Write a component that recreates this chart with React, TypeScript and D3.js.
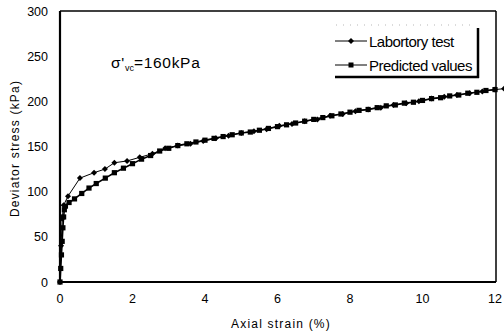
import React from 'react';
import * as d3 from 'd3';

// Axial strain (%) / deviator stress (kPa)
const labStrain = [0, 0.03, 0.06, 0.1, 0.22, 0.55, 0.94, 1.24, 1.5, 1.85, 2.2, 2.55, 2.9, 3.25, 3.6, 3.95, 4.3, 4.65, 5.0, 5.35, 5.7, 6.05, 6.4, 6.75, 7.1, 7.45, 7.8, 8.15, 8.5, 8.85, 9.2, 9.55, 9.9, 10.25, 10.6, 10.95, 11.3, 11.65, 12.0, 12.25];
const labStress = [0, 40, 70, 85, 95, 115, 121, 125, 132, 134, 138, 142, 148, 151, 153, 156, 159, 162, 165, 167, 169, 173, 175, 178, 180, 184, 186, 189, 191, 193, 196, 198, 200, 203, 205, 207, 209, 211, 213, 214];

const predStrain = [0, 0.02, 0.04, 0.06, 0.08, 0.1, 0.12, 0.15, 0.25, 0.4, 0.6, 0.8, 1.0, 1.25, 1.5, 1.75, 2.0, 2.25, 2.5, 2.75, 3.0, 3.25, 3.5, 3.75, 4.0, 4.25, 4.5, 4.75, 5.0, 5.25, 5.5, 5.75, 6.0, 6.25, 6.5, 6.75, 7.0, 7.25, 7.5, 7.75, 8.0, 8.25, 8.5, 8.75, 9.0, 9.25, 9.5, 9.75, 10.0, 10.25, 10.5, 10.75, 11.0, 11.25, 11.5, 11.75, 12.0];
const predStress = [0, 15, 30, 45, 60, 72, 80, 84, 88, 92, 98, 104, 109, 115, 121, 126, 131, 136, 140, 145, 148, 151, 153, 155, 157, 159, 161, 163, 165, 166, 168, 170, 172, 174, 176, 178, 180, 182, 184, 186, 188, 190, 191, 193, 195, 196, 198, 199, 201, 203, 204, 206, 207, 209, 210, 212, 213];

const xTicks = [0, 2, 4, 6, 8, 10, 12];
const yTicks = [0, 50, 100, 150, 200, 250, 300];

const W = 504;
const H = 333;
const left = 60, right = 496, top = 11, bottom = 282;
const font = 'Arial, "Liberation Sans", sans-serif';

export default function App() {
  const x = d3.scaleLinear().domain([0, 12]).range([left, right - 1]);
  const y = d3.scaleLinear().domain([0, 300]).range([bottom, top]);

  const lab = labStrain.map((s, i) => [s, labStress[i]] as [number, number]);
  const pred = predStrain.map((s, i) => [s, predStress[i]] as [number, number]);
  const line = d3.line<[number, number]>().x(d => x(d[0])).y(d => y(d[1]));

  const diamond = (cx: number, cy: number, r = 3) =>
    `M${cx},${cy - r}L${cx + r},${cy}L${cx},${cy + r}L${cx - r},${cy}Z`;

  return (
    <svg width={W} height={H} style={{ position: 'absolute', left: 0, top: 0, background: '#fff' }}>
      {/* frame */}
      <line x1={left} x2={right} y1={top} y2={top} stroke="#000" strokeWidth={1.5} />
      <line x1={right} x2={right} y1={top} y2={bottom} stroke="#000" strokeWidth={1.5} />
      <line x1={left} x2={left} y1={top} y2={bottom + 1} stroke="#000" strokeWidth={2.2} />
      <line x1={left - 1} x2={right} y1={bottom} y2={bottom} stroke="#000" strokeWidth={2.2} />

      {/* y ticks */}
      {yTicks.map(t => (
        <text key={t} x={48} y={y(t) + 4.5} textAnchor="end" fontFamily={font} fontSize={12.5} fill="#000">{t}</text>
      ))}
      {/* x ticks */}
      {xTicks.map(t => (
        <text key={t} x={x(t)} y={303} textAnchor="middle" fontFamily={font} fontSize={12.5} fill="#000">{t}</text>
      ))}

      <text x={281} y={328} textAnchor="middle" fontFamily={font} fontSize={12} letterSpacing={1.2} fill="#000">Axial strain (%)</text>
      <text transform={`translate(19,${(top + bottom) / 2 + 2}) rotate(-90)`} textAnchor="middle" fontFamily={font} fontSize={12} letterSpacing={1.2} fill="#000">Deviator stress (kPa)</text>

      {/* annotation */}
      <text x={111} y={68} fontFamily={font} fontSize={15.5} letterSpacing={0.7} fill="#000">
        σ'<tspan fontSize={9} dy={3} letterSpacing={0}>vc</tspan><tspan dy={-3}>=160kPa</tspan>
      </text>

      {/* predicted */}
      <path d={line(pred) || ''} fill="none" stroke="#000" strokeWidth={1.6} />
      {pred.map((d, i) => (
        <rect key={i} x={x(d[0]) - 2.6} y={y(d[1]) - 2.6} width={5.2} height={5.2} fill="#000" />
      ))}

      {/* laboratory */}
      <path d={line(lab) || ''} fill="none" stroke="#000" strokeWidth={1} />
      {lab.map((d, i) => (
        <path key={i} d={diamond(x(d[0]), y(d[1]))} fill="#000" />
      ))}

      {/* legend */}
      <rect x={335} y={25} width={143} height={52} fill="#fff" />
      <line x1={336} x2={476} y1={25} y2={25} stroke="#888" strokeWidth={0.6} strokeDasharray="1 6" />
      <line x1={478} x2={478} y1={28} y2={78} stroke="#000" strokeWidth={2.5} />
      <line x1={335} x2={479} y1={77} y2={77} stroke="#000" strokeWidth={2.5} />

      <line x1={335} x2={367} y1={41} y2={41} stroke="#000" strokeWidth={1} />
      <path d={diamond(351, 41)} fill="#000" />
      <text x={369} y={46.5} fontFamily={font} fontSize={15} letterSpacing={-0.5} fill="#000">Labortory test</text>

      <line x1={335} x2={367} y1={65} y2={65} stroke="#000" strokeWidth={1} />
      <rect x={348.5} y={62.5} width={5} height={5} fill="#000" />
      <text x={369} y={70.5} fontFamily={font} fontSize={15} letterSpacing={-0.5} fill="#000">Predicted values</text>
    </svg>
  );
}
